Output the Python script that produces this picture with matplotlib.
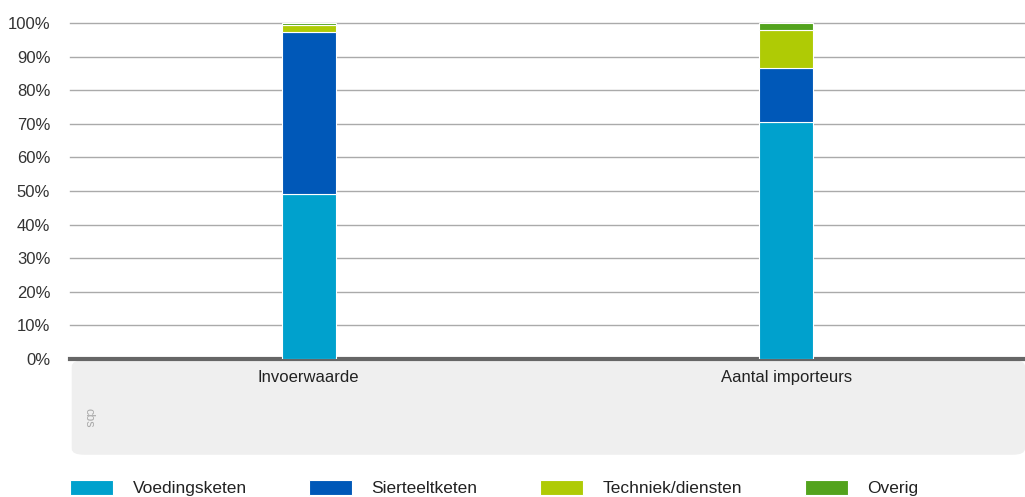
import matplotlib.pyplot as plt
from matplotlib.patches import FancyBboxPatch
import numpy as np

plt.rcParams['font.family'] = ['Liberation Sans', 'DejaVu Sans']

categories = ['Invoerwaarde', 'Aantal importeurs']
series = ['Voedingsketen', 'Sierteeltketen', 'Techniek/diensten', 'Overig']
voeding = [49.1, 70.5]
sierteelt = [48.2, 16.0]
techniek = [2.2, 11.4]
overig = [0.5, 2.1]
colors = ['#00a1cd', '#0058b8', '#afcb05', '#53a31d']

fig = plt.figure(figsize=(10.25, 4.97), dpi=100)
ax = fig.add_axes([0.068, 0.2777, 0.932, 0.676])

# grey band under the axis
band = FancyBboxPatch((0.07, 0.085), 0.93, 0.19, boxstyle='round,pad=0,rounding_size=0.012',
                      transform=fig.transFigure, facecolor='#efefef', edgecolor='none', zorder=-5)
fig.patches.append(band)

x = np.arange(len(categories))
bottom = np.zeros(len(categories))
for name, vals, col in zip(series, [voeding, sierteelt, techniek, overig], colors):
    ax.bar(x, vals, width=0.113, bottom=bottom, color=col, edgecolor='white',
           linewidth=0.8, label=name, zorder=3)
    bottom += np.array(vals)

ax.set_xlim(-0.5, 1.5)
ax.set_ylim(0, 100)
ax.set_yticks(np.arange(0, 101, 10))
ax.set_yticklabels([f'{v}%' for v in range(0, 101, 10)])
ax.yaxis.grid(True, color='#aaaaaa', linewidth=1, clip_on=False)
ax.set_axisbelow(True)
for s in ['top', 'right', 'left']:
    ax.spines[s].set_visible(False)
ax.spines['bottom'].set_color('#666666')
ax.spines['bottom'].set_linewidth(3)
ax.tick_params(axis='y', length=0, labelsize=12, labelcolor='#333333', pad=14)
ax.tick_params(axis='x', length=0, labelsize=12, labelcolor='#222222', pad=8)
ax.set_xticks(x)
ax.set_xticklabels(categories)
ax.patch.set_alpha(0)

fig.text(0.08, 0.16, 'cbs', rotation=-90, fontsize=9, color='#aaaaaa', ha='left', va='center')

fig.legend(loc='lower left', bbox_to_anchor=(0.053, -0.03), ncol=4, frameon=False,
           handlelength=2.5, handleheight=0.9, columnspacing=3.6, handletextpad=1.1,
           fontsize=12.5, labelcolor='#222222')

fig.savefig('out.png', dpi=100)
